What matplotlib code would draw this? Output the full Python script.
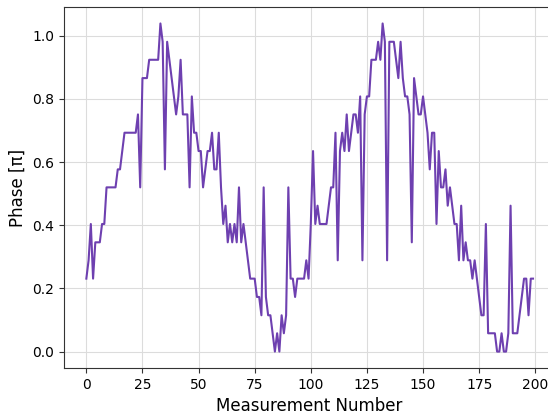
import numpy as np
import matplotlib
matplotlib.use("Agg")
import matplotlib.pyplot as plt

# Phase readings (units of pi) for each measurement
phase = [
    0.231, 0.289, 0.404, 0.231, 0.346, 0.346, 0.346, 0.404, 0.404, 0.520,
    0.520, 0.520, 0.520, 0.520, 0.577, 0.577, 0.635, 0.693, 0.693, 0.693,
    0.693, 0.693, 0.693, 0.751, 0.520, 0.866, 0.866, 0.866, 0.924, 0.924,
    0.924, 0.924, 0.924, 1.039, 0.981, 0.577, 0.981, 0.924, 0.866, 0.808,
    0.751, 0.808, 0.924, 0.751, 0.751, 0.751, 0.520, 0.808, 0.693, 0.693,
    0.635, 0.635, 0.520, 0.577, 0.635, 0.635, 0.693, 0.577, 0.577, 0.693,
    0.520, 0.404, 0.462, 0.346, 0.404, 0.346, 0.404, 0.346, 0.520, 0.346,
    0.404, 0.346, 0.289, 0.231, 0.231, 0.231, 0.173, 0.173, 0.115, 0.520,
    0.173, 0.115, 0.115, 0.058, 0.000, 0.058, 0.000, 0.115, 0.058, 0.115,
    0.520, 0.231, 0.231, 0.173, 0.231, 0.231, 0.231, 0.231, 0.289, 0.231,
    0.404, 0.635, 0.404, 0.462, 0.404, 0.404, 0.404, 0.404, 0.462, 0.520,
    0.520, 0.693, 0.289, 0.635, 0.693, 0.635, 0.751, 0.635, 0.693, 0.751,
    0.751, 0.693, 0.808, 0.289, 0.751, 0.808, 0.808, 0.924, 0.924, 0.924,
    0.981, 0.924, 1.039, 0.981, 0.289, 0.981, 0.981, 0.981, 0.924, 0.866,
    0.981, 0.866, 0.808, 0.808, 0.751, 0.346, 0.866, 0.808, 0.751, 0.751,
    0.808, 0.751, 0.693, 0.577, 0.693, 0.693, 0.404, 0.635, 0.520, 0.520,
    0.577, 0.462, 0.520, 0.462, 0.404, 0.404, 0.289, 0.462, 0.289, 0.346,
    0.289, 0.289, 0.231, 0.289, 0.231, 0.173, 0.115, 0.115, 0.404, 0.058,
    0.058, 0.058, 0.058, 0.000, 0.000, 0.058, 0.000, 0.000, 0.058, 0.462,
    0.058, 0.058, 0.058, 0.115, 0.173, 0.231, 0.231, 0.115, 0.231, 0.231,
]
measurement = np.arange(len(phase))

x_ticks = [0, 25, 50, 75, 100, 125, 150, 175, 200]
y_ticks = [0.0, 0.2, 0.4, 0.6, 0.8, 1.0]

fig = plt.figure(figsize=(5.48, 4.19), dpi=100)
ax = fig.add_axes([0.1168, 0.1217, 0.8966, 0.8615])

ax.plot(measurement, phase, color="#6e40b0", linewidth=1.5)

ax.set_xlim(-9.95, 208.95)
ax.set_ylim(-0.052, 1.091)
ax.set_xticks(x_ticks)
ax.set_yticks(y_ticks)
ax.set_yticklabels([f"{t:.1f}" for t in y_ticks])
ax.grid(True, color="#dcdcdc", linewidth=0.8)
ax.set_axisbelow(True)
ax.tick_params(labelsize=10, color="#333333")
for s in ax.spines.values():
    s.set_color("#333333")
    s.set_linewidth(0.8)

ax.set_xlabel("Measurement Number", fontsize=12)
ax.set_ylabel("Phase [π]", fontsize=12)

fig.savefig("out.png", dpi=100)
